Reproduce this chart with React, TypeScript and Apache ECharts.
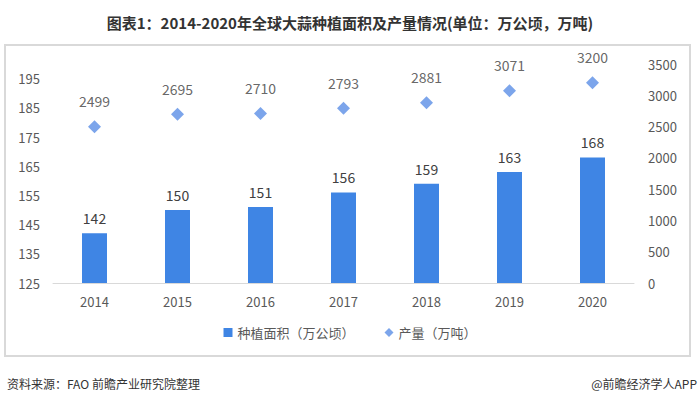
import React, { useEffect, useRef } from "react";
import * as echarts from "echarts";

const categories = ["2014", "2015", "2016", "2017", "2018", "2019", "2020"];
const areaValues = [142, 150, 151, 156, 159, 163, 168];
const outputValues = [2499, 2695, 2710, 2793, 2881, 3071, 3200];

const FONT = "'Microsoft YaHei', 'Noto Sans CJK SC', sans-serif";

export default function App() {
  const ref = useRef<HTMLDivElement>(null);
  useEffect(() => {
    document.body.style.margin = "0";
    const chart = echarts.init(ref.current!, null, { renderer: "svg" });
    chart.setOption({
      animation: false,
      backgroundColor: "#ffffff",
      textStyle: { fontFamily: FONT },
      title: {
        text: "图表1：2014-2020年全球大蒜种植面积及产量情况(单位：万公顷，万吨)",
        left: "center",
        top: 10,
        textStyle: { fontSize: 15, fontWeight: "bold", color: "#333333", fontFamily: FONT },
      },
      graphic: [
        {
          type: "rect",
          shape: { x: 5, y: 45, width: 685, height: 311 },
          style: { fill: "none", stroke: "#d9d9d9", lineWidth: 2 },
        },
        {
          type: "text",
          left: 7,
          top: 377,
          style: { text: "资料来源：FAO 前瞻产业研究院整理", fontSize: 12, fill: "#333333", fontFamily: FONT },
        },
        {
          type: "text",
          right: 3,
          top: 377,
          style: { text: "@前瞻经济学人APP", fontSize: 12, fill: "#333333", fontFamily: FONT },
        },
      ],
      legend: {
        bottom: 63,
        left: "center",
        itemWidth: 9,
        itemHeight: 9,
        itemGap: 30,
        textStyle: { fontSize: 13, color: "#595959", fontFamily: FONT },
        data: [
          { name: "种植面积（万公顷）", icon: "rect" },
          { name: "产量（万吨）", icon: "diamond" },
        ],
      },
      grid: { left: 53, right: 66, top: 64, bottom: 124 },
      xAxis: {
        type: "category",
        data: categories,
        axisLine: { lineStyle: { color: "#d9d9d9" } },
        axisTick: { show: false },
        axisLabel: { color: "#595959", fontSize: 13, margin: 12 },
      },
      yAxis: [
        {
          type: "value",
          min: 125,
          max: 200,
          interval: 10,
          splitLine: { show: false },
          axisLine: { show: false },
          axisTick: { show: false },
          axisLabel: { color: "#595959", fontSize: 13, margin: 13, showMaxLabel: false },
        },
        {
          type: "value",
          min: 0,
          max: 3500,
          interval: 500,
          splitLine: { show: false },
          axisLine: { show: false },
          axisTick: { show: false },
          axisLabel: { color: "#595959", fontSize: 13, margin: 14, formatter: (v: number) => String(v) },
        },
      ],
      series: [
        {
          name: "种植面积（万公顷）",
          type: "bar",
          data: areaValues,
          barWidth: 25,
          itemStyle: { color: "#3f85e4" },
          label: { show: true, position: "top", color: "#404040", fontSize: 14, distance: 8 },
        },
        {
          name: "产量（万吨）",
          type: "scatter",
          yAxisIndex: 1,
          symbol: "diamond",
          symbolSize: 13,
          data: outputValues,
          itemStyle: { color: "#5b8fe6" },
          label: { show: true, position: "top", color: "#404040", fontSize: 14, distance: 12 },
        },
      ],
    });
    return () => chart.dispose();
  }, []);
  return <div ref={ref} style={{ width: 700, height: 407 }} />;
}
